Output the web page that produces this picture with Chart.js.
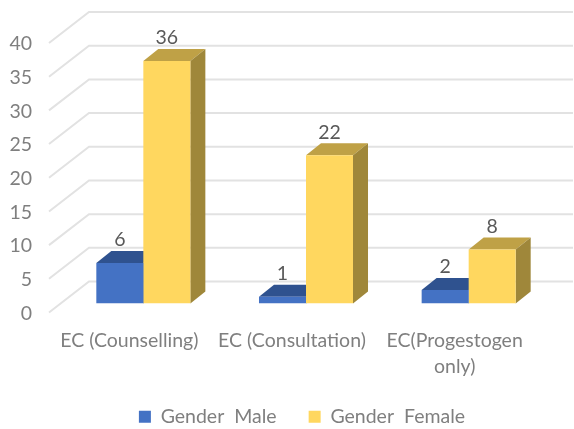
<!DOCTYPE html>
<html>
<head>
<meta charset="utf-8">
<style>
  html, body { margin: 0; padding: 0; background: #fff; }
  canvas { display: block; filter: blur(0.5px); }
</style>
<script src="https://cdn.jsdelivr.net/npm/chart.js@4"></script>
</head>
<body>
<canvas id="chart" width="574" height="429"></canvas>
<script>
const categories = ["EC (Counselling)", "EC (Consultation)", ["EC(Progestogen", "only)"]];
const male = [6, 1, 2];
const female = [36, 22, 8];
const seriesNames = ["Gender  Male", "Gender  Female"];

const FONT = "Lato";
const depth = 15, rise = 12; // bar depth in px

// side colours for the fake 3d bars
const shades = [
    { front: "#4472C4", top: "#2F528F", side: "#2F528F" },
    { front: "#FFD75F", top: "#BFA146", side: "#9F873A" }
];

function face(ctx, pts, color) {
    ctx.fillStyle = color;
    ctx.beginPath();
    pts.forEach((p, i) => i ? ctx.lineTo(p[0], p[1]) : ctx.moveTo(p[0], p[1]));
    ctx.closePath();
    ctx.fill();
}

const wall = {
    id: "wall",
    afterLayout(chart) {
        // legend sits off centre and lower than the layout wants
        const lg = chart.legend;
        const dy = 375 - lg.top;
        lg.left += 27; lg.right += 27;
        lg.top += dy; lg.bottom += dy;
        // room for the two line label under the axis
        chart.scales.x.bottom = 400;
    },
    beforeDatasetsDraw(chart) {
        const ctx = chart.ctx, y = chart.scales.y;
        ctx.save();
        // gridlines: floor diagonal, then along the back wall
        ctx.strokeStyle = "#E2E2E2";
        ctx.lineWidth = 2;
        y.ticks.forEach(t => {
            const py = y.getPixelForValue(t.value);
            ctx.beginPath();
            ctx.moveTo(49, py + 9);
            ctx.lineTo(89, py - 22);
            ctx.lineTo(573, py - 22);
            ctx.stroke();
        });
        // top and side of every bar, front faces get drawn over them
        chart.data.datasets.forEach((ds, i) => {
            chart.getDatasetMeta(i).data.forEach(bar => {
                const l = bar.x - bar.width / 2, r = bar.x + bar.width / 2;
                face(ctx, [[l, bar.y], [l + depth, bar.y - rise], [r + depth, bar.y - rise], [r, bar.y]], shades[i].top);
                face(ctx, [[r, bar.y], [r + depth, bar.y - rise], [r + depth, bar.base - rise], [r, bar.base]], shades[i].side);
            });
        });
        ctx.restore();
    },
    afterDatasetsDraw(chart) {
        const ctx = chart.ctx;
        ctx.save();
        ctx.font = "19.5px " + FONT;
        ctx.fillStyle = "#595959";
        ctx.textAlign = "center";
        ctx.textBaseline = "middle";
        chart.data.datasets.forEach((ds, i) => {
            chart.getDatasetMeta(i).data.forEach((bar, j) => {
                ctx.fillText(ds.data[j], bar.x, bar.y - 23);
            });
        });
        ctx.restore();
    }
};

new Chart(document.getElementById("chart"), {
    type: "bar",
    data: {
        labels: categories,
        datasets: [
            { label: seriesNames[0], data: male, backgroundColor: shades[0].front },
            { label: seriesNames[1], data: female, backgroundColor: shades[1].front }
        ]
    },
    options: {
        responsive: false,
        animation: false,
        layout: { padding: { left: 0, right: 24, top: 34, bottom: 0 } },
        datasets: { bar: { barPercentage: 1, categoryPercentage: 0.578 } },
        plugins: {
            legend: {
                position: "bottom",
                labels: {
                    boxWidth: 12, boxHeight: 12, padding: 32,
                    color: "#7F7F7F",
                    font: { family: FONT, size: 19.5 }
                }
            },
            tooltip: { enabled: false }
        },
        scales: {
            x: {
                grid: { display: false },
                border: { display: false },
                afterFit(s) { s.height = 64; },
                ticks: {
                    color: "#7F7F7F",
                    font: { family: FONT, size: 19.5, lineHeight: 1.35 },
                    maxRotation: 0, autoSkip: false,
                    labelOffset: -14,
                    padding: 16
                }
            },
            y: {
                min: 0, max: 40,
                grid: { display: false, drawTicks: false },
                border: { display: false },
                // top of the plot has to stay where it is, no room kept for half a label
                afterFit(s) { s.width = 62; s.paddingTop = 0; s.paddingBottom = 0; },
                ticks: {
                    stepSize: 5,
                    color: "#7F7F7F",
                    font: { family: FONT, size: 19.5 },
                    labelOffset: 10,
                    padding: 30
                }
            }
        }
    },
    plugins: [wall]
});
</script>
</body>
</html>
